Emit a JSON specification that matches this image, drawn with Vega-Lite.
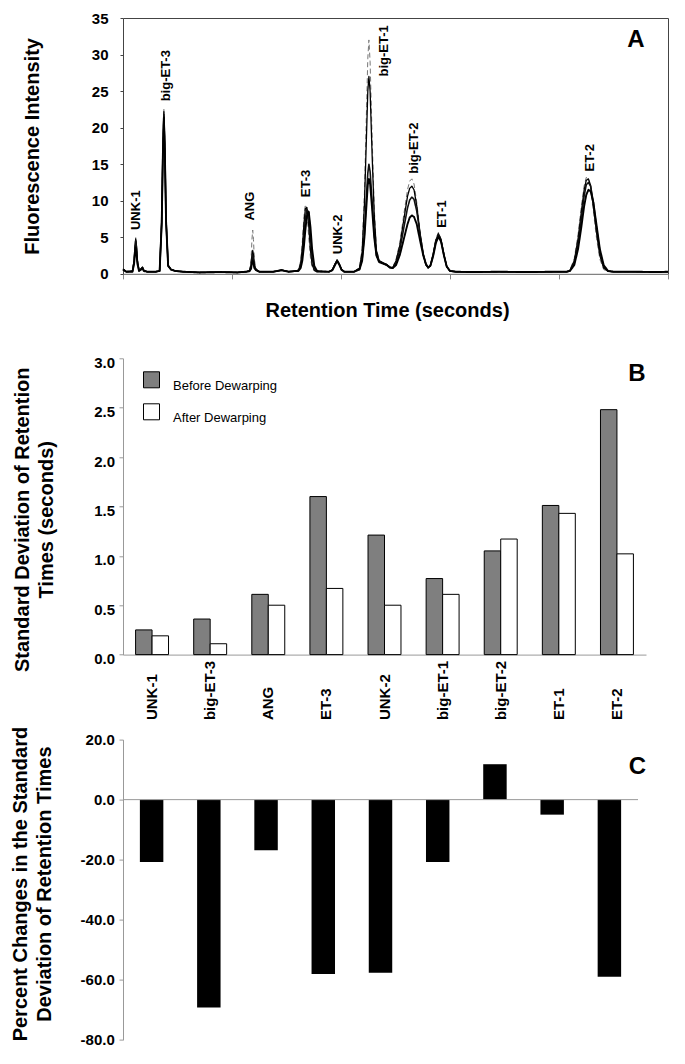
{
  "$schema": "https://vega.github.io/schema/vega-lite/v6.json",
  "padding": {"left": 10, "top": 10, "right": 5, "bottom": 5},
  "bounds": "flush",
  "spacing": 84.3,
  "resolve": {"legend": {"fill": "independent", "color": "independent", "strokeDash": "independent", "strokeWidth": "independent"}, "scale": {"x": "independent", "y": "independent", "fill": "independent"}},
  "config": {
    "font": "Liberation Sans",
    "view": {"stroke": null},
    "axis": {
      "grid": false,
      "labelFont": "Liberation Sans",
      "labelFontWeight": "bold",
      "labelFontSize": 15,
      "labelColor": "#000",
      "labelOverlap": false,
      "labelFlush": false,
      "titleFont": "Liberation Sans",
      "titleFontWeight": "bold",
      "titleFontSize": 20,
      "titleColor": "#000",
      "domainColor": "#999",
      "tickColor": "#999"
    }
  },
  "datasets": {
    "trace": [
      {"t":0,"a":0.8,"b":0.7,"c":0.6,"d":0.6},
      {"t":3,"a":0.3,"b":0.3,"c":0.3,"d":0.3},
      {"t":8.7,"a":0.4,"b":0.4,"c":0.35,"d":0.3},
      {"t":10.2,"a":1.9,"b":1.8,"c":1.7,"d":1.4},
      {"t":11,"a":3.9,"b":3.8,"c":3.5,"d":2.8},
      {"t":11.7,"a":5,"b":4.8,"c":4.5,"d":3.6},
      {"t":12.4,"a":3.9,"b":3.8,"c":3.5,"d":2.8},
      {"t":13.2,"a":1.9,"b":1.8,"c":1.7,"d":1.4},
      {"t":14.7,"a":0.5,"b":0.5,"c":0.45,"d":0.4},
      {"t":16.5,"a":0.7,"b":0.7,"c":0.6,"d":0.6},
      {"t":17.8,"a":1,"b":0.9,"c":0.9,"d":0.8},
      {"t":19,"a":0.5,"b":0.5,"c":0.5,"d":0.4},
      {"t":22,"a":0.3,"b":0.3,"c":0.3,"d":0.3},
      {"t":30,"a":0.3,"b":0.3,"c":0.3,"d":0.3},
      {"t":33.6,"a":0.4,"b":0.4,"c":0.4,"d":0.4},
      {"t":35.5,"a":7.4,"b":7.2,"c":7,"d":6.8},
      {"t":36.6,"a":17.5,"b":17.2,"c":16.8,"d":16.4},
      {"t":37.5,"a":22.5,"b":22.2,"c":21.8,"d":21.4},
      {"t":38.4,"a":17.5,"b":17.3,"c":17,"d":16.6},
      {"t":39.5,"a":7.6,"b":7.4,"c":7.3,"d":7.2},
      {"t":41.4,"a":1.2,"b":1.2,"c":1.1,"d":1.1},
      {"t":44,"a":0.6,"b":0.6,"c":0.6,"d":0.6},
      {"t":48,"a":0.4,"b":0.4,"c":0.4,"d":0.4},
      {"t":55,"a":0.3,"b":0.3,"c":0.3,"d":0.3},
      {"t":70,"a":0.2,"b":0.2,"c":0.2,"d":0.2},
      {"t":90,"a":0.25,"b":0.25,"c":0.25,"d":0.25},
      {"t":105,"a":0.2,"b":0.2,"c":0.2,"d":0.2},
      {"t":113,"a":0.3,"b":0.3,"c":0.3,"d":0.3},
      {"t":116,"a":0.5,"b":0.45,"c":0.4,"d":0.35},
      {"t":117.5,"a":2,"b":1.2,"c":0.9,"d":0.7},
      {"t":118.3,"a":4.7,"b":2.6,"c":2,"d":1.5},
      {"t":119,"a":6,"b":3.2,"c":2.5,"d":1.8},
      {"t":119.7,"a":4.7,"b":2.6,"c":2,"d":1.5},
      {"t":120.5,"a":2,"b":1.3,"c":1,"d":0.8},
      {"t":122,"a":0.7,"b":0.6,"c":0.6,"d":0.5},
      {"t":125,"a":0.3,"b":0.3,"c":0.3,"d":0.3},
      {"t":138,"a":0.3,"b":0.3,"c":0.3,"d":0.3},
      {"t":145.5,"a":0.55,"b":0.55,"c":0.5,"d":0.5},
      {"t":152,"a":0.3,"b":0.3,"c":0.3,"d":0.3},
      {"t":159,"a":0.4,"b":0.4,"c":0.4,"d":0.4},
      {"t":161,"a":0.6,"b":0.5,"c":0.5,"d":0.4},
      {"t":163,"a":1.8,"b":1.4,"c":1,"d":0.8},
      {"t":164.5,"a":4.3,"b":3.5,"c":2.5,"d":1.8},
      {"t":166,"a":7.8,"b":6.8,"c":5.2,"d":3.8},
      {"t":167.3,"a":9.5,"b":8.9,"c":7.6,"d":6},
      {"t":168.7,"a":8.6,"b":9.1,"c":8.8,"d":7.9},
      {"t":170.4,"a":5,"b":6.6,"c":8.4,"d":8.5},
      {"t":172,"a":2.2,"b":3.2,"c":5,"d":6.4},
      {"t":173.5,"a":0.9,"b":1.3,"c":2.2,"d":3.4},
      {"t":175.5,"a":0.4,"b":0.5,"c":0.7,"d":1.1},
      {"t":178,"a":0.3,"b":0.3,"c":0.3,"d":0.4},
      {"t":189,"a":0.3,"b":0.3,"c":0.3,"d":0.3},
      {"t":192,"a":0.6,"b":0.55,"c":0.5,"d":0.5},
      {"t":194.5,"a":1.4,"b":1.35,"c":1.3,"d":1.2},
      {"t":196.4,"a":2,"b":1.9,"c":1.85,"d":1.75},
      {"t":198.3,"a":1.4,"b":1.4,"c":1.35,"d":1.3},
      {"t":200.5,"a":0.6,"b":0.6,"c":0.6,"d":0.55},
      {"t":203,"a":0.3,"b":0.3,"c":0.3,"d":0.3},
      {"t":212,"a":0.3,"b":0.3,"c":0.3,"d":0.3},
      {"t":217,"a":0.9,"b":0.8,"c":0.7,"d":0.6},
      {"t":219.4,"a":3.5,"b":3,"c":2,"d":1.8},
      {"t":221.5,"a":11,"b":9.5,"c":5.5,"d":5},
      {"t":223.5,"a":23,"b":19.5,"c":11,"d":9.7},
      {"t":224.6,"a":29.5,"b":25,"c":13.8,"d":12.2},
      {"t":225.6,"a":32,"b":27,"c":15,"d":13},
      {"t":226.7,"a":29,"b":25,"c":14,"d":12.3},
      {"t":228.5,"a":19,"b":16.5,"c":10,"d":9},
      {"t":230.5,"a":9,"b":8,"c":5.5,"d":5},
      {"t":232.5,"a":3.5,"b":3.2,"c":2.6,"d":2.5},
      {"t":235,"a":1.8,"b":1.8,"c":1.7,"d":1.6},
      {"t":239,"a":1.5,"b":1.5,"c":1.4,"d":1.4},
      {"t":242,"a":1.3,"b":1.3,"c":1.2,"d":1.2},
      {"t":245,"a":0.9,"b":0.9,"c":0.9,"d":0.85},
      {"t":247.5,"a":0.9,"b":0.85,"c":0.8,"d":0.8},
      {"t":250.5,"a":2,"b":1.8,"c":1.5,"d":1.2},
      {"t":254,"a":4.3,"b":3.9,"c":3.3,"d":2.6},
      {"t":257.5,"a":8,"b":7.3,"c":6.2,"d":4.7},
      {"t":261,"a":11.5,"b":10.6,"c":9,"d":6.8},
      {"t":263,"a":12.7,"b":11.7,"c":10.1,"d":7.7},
      {"t":265,"a":13,"b":12,"c":10.5,"d":8},
      {"t":267,"a":12.3,"b":11.5,"c":10.2,"d":7.8},
      {"t":269.5,"a":9.8,"b":9.3,"c":8.6,"d":6.8},
      {"t":272.5,"a":5.8,"b":5.6,"c":5.4,"d":4.6},
      {"t":275.5,"a":2.6,"b":2.6,"c":2.7,"d":2.5},
      {"t":278,"a":1.2,"b":1.2,"c":1.3,"d":1.3},
      {"t":280,"a":0.8,"b":0.8,"c":0.85,"d":0.9},
      {"t":282,"a":1.2,"b":1.2,"c":1.1,"d":1.1},
      {"t":284.5,"a":2.8,"b":2.7,"c":2.5,"d":2.4},
      {"t":287,"a":4.8,"b":4.6,"c":4.4,"d":4.2},
      {"t":289.4,"a":5.7,"b":5.5,"c":5.3,"d":5.1},
      {"t":291.8,"a":4.8,"b":4.7,"c":4.5,"d":4.4},
      {"t":294.5,"a":2.6,"b":2.6,"c":2.5,"d":2.5},
      {"t":297,"a":1,"b":1,"c":1,"d":1},
      {"t":300,"a":0.4,"b":0.4,"c":0.4,"d":0.4},
      {"t":305,"a":0.3,"b":0.3,"c":0.3,"d":0.3},
      {"t":320,"a":0.25,"b":0.25,"c":0.25,"d":0.25},
      {"t":345,"a":0.3,"b":0.3,"c":0.3,"d":0.3},
      {"t":370,"a":0.25,"b":0.25,"c":0.25,"d":0.25},
      {"t":395,"a":0.3,"b":0.3,"c":0.3,"d":0.3},
      {"t":407,"a":0.3,"b":0.3,"c":0.3,"d":0.3},
      {"t":410,"a":0.5,"b":0.45,"c":0.4,"d":0.4},
      {"t":414,"a":2.1,"b":1.8,"c":1.5,"d":1.2},
      {"t":417.5,"a":5.4,"b":4.8,"c":4.1,"d":3.4},
      {"t":420.5,"a":9.2,"b":8.5,"c":7.6,"d":6.4},
      {"t":423,"a":12,"b":11.4,"c":10.6,"d":9.2},
      {"t":425,"a":13.2,"b":12.8,"c":12.2,"d":10.8},
      {"t":427,"a":13,"b":13,"c":12.5,"d":11.5},
      {"t":429,"a":11.7,"b":12.1,"c":12,"d":11.3},
      {"t":431.5,"a":8.6,"b":9.4,"c":9.8,"d":9.8},
      {"t":434.5,"a":4.8,"b":5.6,"c":6.2,"d":6.6},
      {"t":437.5,"a":2,"b":2.5,"c":3,"d":3.4},
      {"t":441,"a":0.6,"b":0.8,"c":1,"d":1.2},
      {"t":445,"a":0.3,"b":0.35,"c":0.4,"d":0.4},
      {"t":450,"a":0.3,"b":0.3,"c":0.3,"d":0.3},
      {"t":470,"a":0.3,"b":0.3,"c":0.3,"d":0.3},
      {"t":490,"a":0.25,"b":0.25,"c":0.25,"d":0.25},
      {"t":500,"a":0.3,"b":0.3,"c":0.3,"d":0.3}
    ],
    "peaks": [
      {"name":"UNK-1","t":12.3,"v":6.0},
      {"name":"big-ET-3","t":39.9,"v":23.6},
      {"name":"ANG","t":116.6,"v":7.3},
      {"name":"ET-3","t":167.9,"v":10.5},
      {"name":"UNK-2","t":197,"v":2.7},
      {"name":"big-ET-1","t":239.4,"v":27.0},
      {"name":"big-ET-2","t":267,"v":13.7},
      {"name":"ET-1","t":293,"v":6.3},
      {"name":"ET-2","t":428.8,"v":14.0}
    ],
    "sd": [
      {"peak":"UNK-1","phase":"Before Dewarping","sd":0.25},
      {"peak":"UNK-1","phase":"After Dewarping","sd":0.19},
      {"peak":"big-ET-3","phase":"Before Dewarping","sd":0.36},
      {"peak":"big-ET-3","phase":"After Dewarping","sd":0.11},
      {"peak":"ANG","phase":"Before Dewarping","sd":0.61},
      {"peak":"ANG","phase":"After Dewarping","sd":0.50},
      {"peak":"ET-3","phase":"Before Dewarping","sd":1.60},
      {"peak":"ET-3","phase":"After Dewarping","sd":0.67},
      {"peak":"UNK-2","phase":"Before Dewarping","sd":1.21},
      {"peak":"UNK-2","phase":"After Dewarping","sd":0.50},
      {"peak":"big-ET-1","phase":"Before Dewarping","sd":0.77},
      {"peak":"big-ET-1","phase":"After Dewarping","sd":0.61},
      {"peak":"big-ET-2","phase":"Before Dewarping","sd":1.05},
      {"peak":"big-ET-2","phase":"After Dewarping","sd":1.17},
      {"peak":"ET-1","phase":"Before Dewarping","sd":1.51},
      {"peak":"ET-1","phase":"After Dewarping","sd":1.43},
      {"peak":"ET-2","phase":"Before Dewarping","sd":2.48},
      {"peak":"ET-2","phase":"After Dewarping","sd":1.02}
    ],
    "pct": [
      {"peak":"UNK-1","pct":-20.8},
      {"peak":"big-ET-3","pct":-69.2},
      {"peak":"ANG","pct":-16.9},
      {"peak":"ET-3","pct":-58.1},
      {"peak":"UNK-2","pct":-57.7},
      {"peak":"big-ET-1","pct":-20.8},
      {"peak":"big-ET-2","pct":11.8},
      {"peak":"ET-1","pct":-5.0},
      {"peak":"ET-2","pct":-59.0}
    ]
  },
  "vconcat": [
    {
      "width": 545,
      "height": 255.9,
      "view": {"stroke": "#444", "strokeWidth": 1},
      "layer": [
        {
          "data": {"name": "trace"},
          "transform": [{"fold": ["a", "b", "c", "d"], "as": ["run", "v"]}],
          "mark": {"type": "line", "strokeJoin": "round"},
          "encoding": {
            "x": {
              "field": "t", "type": "quantitative",
              "scale": {"domain": [0, 500], "nice": false},
              "axis": {"values": [0, 100, 200, 300, 400, 500], "labels": false, "tickSize": 5, "tickColor": "#888", "domainColor": "#888", "title": "Retention Time (seconds)", "titlePadding": 21, "titleX": 264}
            },
            "y": {
              "field": "v", "type": "quantitative",
              "scale": {"domain": [0, 35], "nice": false},
              "axis": {"values": [0, 5, 10, 15, 20, 25, 30, 35], "tickSize": 3, "tickColor": "#444", "domain": false, "labelPadding": 12, "title": "Fluorescence Intensity", "titlePadding": 49}
            },
            "color": {"field": "run", "type": "nominal", "scale": {"domain": ["a", "b", "c", "d"], "range": ["#777777", "#000000", "#111111", "#000000"]}, "legend": null},
            "strokeDash": {"field": "run", "type": "nominal", "scale": {"domain": ["a", "b", "c", "d"], "range": [[5, 3], [1, 0], [1, 0], [1, 0]]}, "legend": null},
            "strokeWidth": {"field": "run", "type": "ordinal", "scale": {"domain": ["a", "b", "c", "d"], "range": [1, 1.9, 1.9, 2.5]}, "legend": null}
          }
        },
        {
          "data": {"name": "peaks"},
          "mark": {"type": "text", "angle": 270, "align": "left", "baseline": "middle", "fontSize": 13, "fontWeight": "bold", "font": "Liberation Sans", "color": "#000"},
          "encoding": {
            "x": {
              "field": "t", "type": "quantitative",
              "axis": {"values": [0, 100, 200, 300, 400, 500], "labels": false, "tickSize": 5, "tickColor": "#888", "domainColor": "#888", "title": "Retention Time (seconds)", "titlePadding": 21, "titleX": 264}
            },
            "y": {
              "field": "v", "type": "quantitative",
              "axis": {"values": [0, 5, 10, 15, 20, 25, 30, 35], "tickSize": 3, "tickColor": "#444", "domain": false, "labelPadding": 12, "title": "Fluorescence Intensity", "titlePadding": 49}
            },
            "text": {"field": "name"}
          }
        },
        {
          "data": {"values": [{"panel": "A"}]},
          "mark": {"type": "text", "fontSize": 24, "fontWeight": "bold", "font": "Liberation Sans", "align": "center", "baseline": "middle", "color": "#000"},
          "encoding": {
            "x": {
              "datum": 470.5, "type": "quantitative",
              "axis": {"values": [0, 100, 200, 300, 400, 500], "labels": false, "tickSize": 5, "tickColor": "#888", "domainColor": "#888", "title": "Retention Time (seconds)", "titlePadding": 21, "titleX": 264}
            },
            "y": {
              "datum": 32, "type": "quantitative",
              "axis": {"values": [0, 5, 10, 15, 20, 25, 30, 35], "tickSize": 3, "tickColor": "#444", "domain": false, "labelPadding": 12, "title": "Fluorescence Intensity", "titlePadding": 49}
            },
            "text": {"field": "panel"}
          }
        }
      ]
    },
    {
      "width": 523,
      "height": 296.3,
      "layer": [
        {
          "data": {"name": "sd"},
          "mark": {"type": "bar", "stroke": "#000", "strokeWidth": 1},
          "encoding": {
            "x": {
              "field": "peak", "type": "nominal",
              "sort": ["UNK-1", "big-ET-3", "ANG", "ET-3", "UNK-2", "big-ET-1", "big-ET-2", "ET-1", "ET-2"],
              "scale": {"paddingInner": 0.433, "paddingOuter": 0.2165},
              "axis": {"title": null, "ticks": false, "labelAngle": 270, "labelAlign": "left", "labelBaseline": "middle", "labelPadding": 65, "domainColor": "#999"}
            },
            "xOffset": {"field": "phase", "type": "nominal", "sort": ["Before Dewarping", "After Dewarping"]},
            "y": {
              "field": "sd", "type": "quantitative",
              "scale": {"domain": [0, 3], "nice": false},
              "axis": {"values": [0, 0.5, 1, 1.5, 2, 2.5, 3], "format": ".1f", "tickSize": 4, "labelPadding": 4.5, "labelOffset": 4, "title": ["Standard Deviation of Retention", "Times (seconds)"], "titlePadding": 37, "titleLineHeight": 24, "titleY": 161}
            },
            "fill": {
              "field": "phase", "type": "nominal",
              "scale": {"domain": ["Before Dewarping", "After Dewarping"], "range": ["#7f7f7f", "#ffffff"]},
              "legend": {"title": null, "orient": "none", "legendX": 20, "legendY": 13, "padding": 0, "symbolType": "square", "symbolSize": 256, "symbolStrokeColor": "#000", "symbolStrokeWidth": 1, "labelFontSize": 13, "labelFont": "Liberation Sans", "labelColor": "#000", "labelOffset": 13, "rowPadding": 8, "labelBaseline": "top"}
            }
          }
        },
        {
          "data": {"values": [{"panel": "B"}]},
          "mark": {"type": "text", "fontSize": 24, "fontWeight": "bold", "font": "Liberation Sans", "align": "center", "baseline": "middle", "dx": 20, "color": "#000"},
          "encoding": {
            "x": {"datum": "ET-2"},
            "y": {"datum": 2.84},
            "text": {"field": "panel"}
          }
        }
      ]
    },
    {
      "width": 515,
      "height": 300.2,
      "layer": [
        {
          "data": {"name": "pct"},
          "mark": {"type": "bar", "color": "#000"},
          "encoding": {
            "x": {
              "field": "peak", "type": "nominal",
              "sort": ["UNK-1", "big-ET-3", "ANG", "ET-3", "UNK-2", "big-ET-1", "big-ET-2", "ET-1", "ET-2"],
              "scale": {"paddingInner": 0.59, "paddingOuter": 0.295},
              "axis": null
            },
            "y": {
              "field": "pct", "type": "quantitative",
              "scale": {"domain": [-80, 20], "nice": false},
              "axis": {"values": [-80, -70, -60, -50, -40, -30, -20, -10, 0, 10, 20], "labelExpr": "datum.value % 20 === 0 ? replace(format(datum.value, '.1f'), '\u2212', '-') : ''", "tickSize": 4, "labelPadding": 4.7, "title": ["Percent Changes in the Standard", "Deviation of Retention Times"], "titlePadding": 26, "titleLineHeight": 24, "titleY": 144}
            }
          }
        },
        {
          "data": {"values": [{"level": 0}]},
          "mark": {"type": "rule", "color": "#999", "strokeWidth": 1},
          "encoding": {"y": {"field": "level", "type": "quantitative"}}
        },
        {
          "data": {"values": [{"panel": "C"}]},
          "mark": {"type": "text", "fontSize": 24, "fontWeight": "bold", "font": "Liberation Sans", "align": "center", "baseline": "middle", "dx": 28, "color": "#000"},
          "encoding": {
            "x": {"datum": "ET-2"},
            "y": {"datum": 10.8},
            "text": {"field": "panel"}
          }
        }
      ]
    }
  ]
}
